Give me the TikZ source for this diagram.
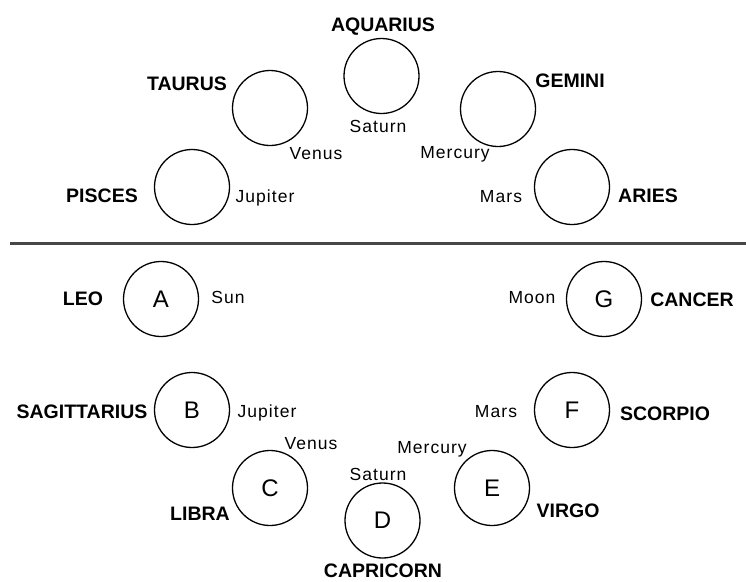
\documentclass[tikz,border=0pt]{standalone}
\usepackage{fontspec}
\setmainfont{Liberation Sans}
\newfontfamily\smallf[LetterSpace=6]{Liberation Sans}
\begin{document}
\begin{tikzpicture}[x=1pt,y=-1pt,
  sign/.style={circle,draw=black,line width=1.3pt,minimum size=75pt,inner sep=0pt,
    font=\fontsize{24}{26}\selectfont},
  zod/.style={anchor=base,inner sep=0pt,font=\fontsize{19.5}{20}\selectfont\bfseries},
  planet/.style={anchor=base,inner sep=0pt,font=\fontsize{17.5}{19}\smallf}]
\useasboundingbox (0,0) rectangle (746,581);
% divider
\coordinate (L) at (10,243.5);
\coordinate (R) at (746,243.5);
\draw[line width=2.5pt,black!72] (L) -- (R);
% top half
\node[sign] (aq) at (381.5,76) {};
\node[zod] (aqt) at (383,31) {AQUARIUS};
\node[planet] (aqp) at (378,132) {Saturn};
\node[sign] (ta) at (270,108) {};
\node[zod] (tat) at (187,90) {TAURUS};
\node[planet] (tap) at (316,159) {Venus};
\node[sign] (pi) at (192,187) {};
\node[zod] (pit) at (102,202) {PISCES};
\node[planet] (pip) at (265,202) {Jupiter};
\node[sign] (ge) at (498,109) {};
\node[zod] (get) at (570,87) {GEMINI};
\node[planet] (gep) at (455,158) {Mercury};
\node[sign] (ar) at (572,187) {};
\node[zod] (art) at (648,202) {ARIES};
\node[planet] (arp) at (501,202) {Mars};
% bottom half
\node[sign] (a) at (161,299) {A};
\node[zod] (at) at (83,305) {LEO};
\node[planet] (ap) at (228,303) {Sun};
\node[sign] (b) at (192,410) {B};
\node[zod] (bt) at (82,418) {SAGITTARIUS};
\node[planet] (bp) at (267,417) {Jupiter};
\node[sign] (c) at (270,488) {C};
\node[zod] (ct) at (200,520) {LIBRA};
\node[planet] (cp) at (311,449) {Venus};
\node[sign] (d) at (382.5,520.5) {D};
\node[zod] (dt) at (383,577) {CAPRICORN};
\node[planet] (dp) at (378,480) {Saturn};
\node[sign] (e) at (492,488) {E};
\node[zod] (et) at (568,517) {VIRGO};
\node[planet] (ep) at (432,453) {Mercury};
\node[sign] (f) at (572,410) {F};
\node[zod] (ft) at (665,420) {SCORPIO};
\node[planet] (fp) at (496,417) {Mars};
\node[sign] (g) at (604,299) {G};
\node[zod] (gt) at (692,306) {CANCER};
\node[planet] (gp) at (532,303) {Moon};
\end{tikzpicture}
\end{document}
